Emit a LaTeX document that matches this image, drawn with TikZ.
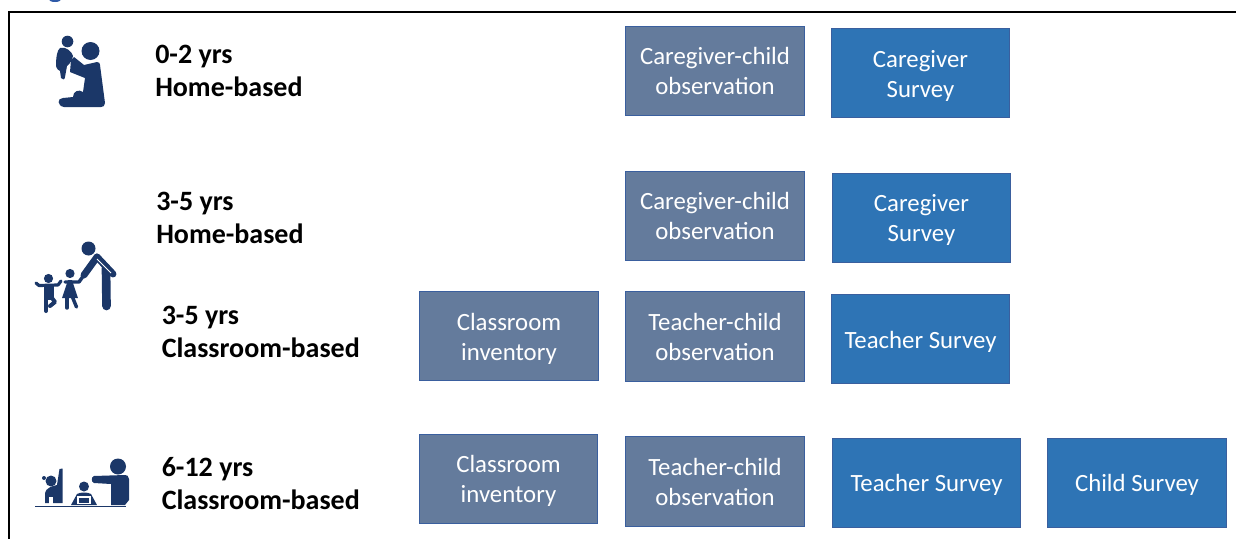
\documentclass[tikz,border=0pt]{standalone}
\usepackage{fontspec}
\setmainfont{Carlito}
\definecolor{iconblue}{HTML}{1B3768}
\definecolor{slatefill}{HTML}{647B9C}
\definecolor{surveyfill}{HTML}{2E74B5}
\definecolor{boxedge}{HTML}{3A5F9E}
\definecolor{titleblue}{HTML}{2F5AA8}
\newcommand\dnlines[2]{\vbox{\vskip#1\hbox{\begin{tabular}{@{}c@{}}#2\end{tabular}}}}
\tikzset{
  px/.style={x=0.75pt,y=-0.75pt},
  obsbox/.style={draw=boxedge,line width=0.7pt,fill=slatefill,text=white,minimum width=134pt,minimum height=67pt,align=center,inner sep=0pt,font=\fontsize{18.6}{22.5}\selectfont},
  survbox/.style={obsbox,fill=surveyfill},
  agelabel/.style={anchor=west,align=left,font=\fontsize{21}{24.75}\selectfont\bfseries,inner sep=0pt,text=black},
  ico/.style={fill=iconblue,draw=none},
  icoline/.style={draw=iconblue,line cap=round,line join=round}
}
\begin{document}
\begin{tikzpicture}[px]
\useasboundingbox (0,0) rectangle (1236,539);
% frame
\draw[black,line width=1.5pt] (8.5,539) -- (8.5,11.5) -- (1236,11.5);
% clipped remnant of a title above the frame
\fill[titleblue] (55,-1) ellipse (6.5 and 3);
% labels
\node[agelabel] (l1) at (155,71) {0-2 yrs\\Home-based};
\node[agelabel] (l2) at (156,218) {3-5 yrs\\Home-based};
\node[agelabel] (l3) at (161.5,332) {3-5 yrs\\Classroom-based};
\node[agelabel] (l4) at (161.5,484) {6-12 yrs\\Classroom-based};
% boxes
\node[obsbox] (a1) at (715,71) {\dnlines{4.5pt}{Caregiver-child\\observation}};
\node[survbox] (a2) at (920.5,73) {\dnlines{4.5pt}{Caregiver\\Survey}};
\node[obsbox] (b1) at (715,216) {\dnlines{3pt}{Caregiver-child\\observation}};
\node[survbox] (b2) at (921.5,218) {\dnlines{3pt}{Caregiver\\Survey}};
\node[obsbox] (c0) at (509,336) {\dnlines{4.5pt}{Classroom\\inventory}};
\node[obsbox] (c1) at (715,336.5) {\dnlines{4.5pt}{Teacher-child\\observation}};
\node[survbox] (c2) at (920.5,339) {\dnlines{4.5pt}{Teacher Survey}};
\node[obsbox] (d0) at (508.5,479) {\dnlines{3pt}{Classroom\\inventory}};
\node[obsbox] (d1) at (715,481.5) {\dnlines{4.5pt}{Teacher-child\\observation}};
\node[survbox,minimum width=141.5pt] (d2) at (926.5,483) {\dnlines{3pt}{Teacher Survey}};
\node[survbox] (d3) at (1137,483) {\dnlines{3pt}{Child Survey}};
% icon 1: adult lifting baby
\fill[ico] (90.5,51) circle (9);
\fill[ico] (67.5,41.5) circle (5.8);
\fill[ico] (60,48) .. controls (57,50) and (56,58) .. (56,66) .. controls (57,70) and (59,70) .. (60,71) -- (61,78) .. controls (62,80) and (65,80) .. (65,77) -- (67,66) .. controls (70,64) and (72,60) .. (73,56) .. controls (72,52) and (66,46) .. (60,48) -- cycle;
\fill[ico] (71,60) -- (74,57) -- (84,65) -- (97,62) .. controls (99,62) and (100,63) .. (100,65) -- (105,103) .. controls (105,106) and (103,107) .. (101,107) -- (64,107) .. controls (57,106) and (57,98) .. (63,98) -- (73,97) .. controls (73,91) and (79,89) .. (83,92) -- (85,78) -- (70,72) -- cycle;
% icon 2: adult with two children
\fill[ico] (88.5,248.5) circle (7);
\draw[icoline,line width=5.2pt] (97,257) -- (84,275);
\draw[icoline,line width=5.2pt] (97,257) -- (113,274);
\draw[icoline,line width=6.5pt] (106,268) -- (106.5,306);
\draw[white,line width=0.6pt] (97,259) -- (111,273);
\draw[icoline,line width=2.6pt] (84,275) -- (79,282) -- (65,282);
\fill[ico] (70,273.5) circle (4.6);
\fill[ico] (68,280) -- (72,280) -- (78,298) -- (62,298) -- cycle;
\draw[icoline,line width=2.6pt] (67,296) -- (67,308);
\draw[icoline,line width=2.6pt] (72,296) -- (76.5,307);
\draw[icoline,line width=2.4pt] (36,283) -- (39,285.5) -- (58,285) -- (61,281);
\fill[ico] (48.5,278.5) circle (4.6);
\fill[ico] (44,285) rectangle (54,300);
\draw[icoline,line width=3pt] (46,298) -- (46,311);
\draw[icoline,line width=3pt] (52,298) -- (55,302) -- (50,306);
% icon 3: classroom
\fill[ico] (118,466.5) circle (8);
\fill[ico] (94,476) .. controls (91,477) and (91,482) .. (94,483) -- (111,484) -- (111,505) -- (125,505) -- (129,500) -- (129,479) .. controls (129,476) and (127,475) .. (125,475) -- cycle;
\draw[iconblue,line width=0.8pt] (35,506.5) -- (126,506.5);
\fill[ico] (51,481) circle (5.5);
\fill[ico] (44,478) circle (2);
\fill[ico] (59.5,469) -- (62.5,468.5) -- (62.5,503) -- (45,503) -- (45,493) .. controls (46,488) and (52,486) .. (57,485) -- cycle;
\fill[white] (49,497) rectangle (53,505);
\fill[ico] (84,486.5) circle (5);
\fill[ico] (71,505) -- (77,494) .. controls (80,492) and (88,492) .. (91,494) -- (97,505) -- cycle;
\fill[white] (77,496) rectangle (91,504);
\fill[ico] (79,498) rectangle (89,503);
\end{tikzpicture}
\end{document}
